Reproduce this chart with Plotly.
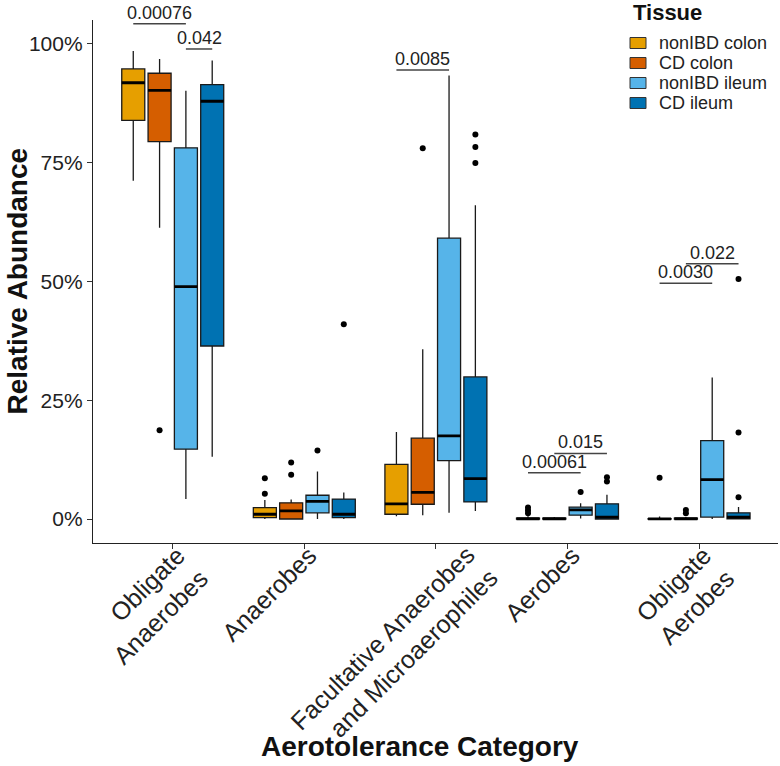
import plotly.graph_objects as go

categories = ["Obligate<br>Anaerobes", "Anaerobes",
              "Facultative Anaerobes<br>and Microaerophiles", "Aerobes",
              "Obligate<br>Aerobes"]
tissues = ["nonIBD colon", "CD colon", "nonIBD ileum", "CD ileum"]
colors = ["#E69F00", "#D55E00", "#56B4E9", "#0072B2"]

# per tissue: values for each category
lower = {
    "nonIBD colon": [0.712, 0.0, 0.006, 0.0, 0.0],
    "CD colon":     [0.613, 0.0, 0.008, 0.0, 0.0],
    "nonIBD ileum": [0.042, 0.0, 0.013, 0.001, 0.0],
    "CD ileum":     [0.131, 0.0, 0.017, 0.0, 0.0],
}
q1 = {
    "nonIBD colon": [0.839, 0.003, 0.010, 0.0, 0.0],
    "CD colon":     [0.794, 0.0, 0.031, 0.0, 0.0],
    "nonIBD ileum": [0.147, 0.013, 0.123, 0.008, 0.004],
    "CD ileum":     [0.364, 0.003, 0.036, 0.0, 0.0005],
}
median = {
    "nonIBD colon": [0.918, 0.010, 0.032, 0.0005, 0.0003],
    "CD colon":     [0.902, 0.017, 0.056, 0.0005, 0.0005],
    "nonIBD ileum": [0.489, 0.037, 0.175, 0.019, 0.083],
    "CD ileum":     [0.879, 0.010, 0.085, 0.004, 0.004],
}
q3 = {
    "nonIBD colon": [0.947, 0.024, 0.115, 0.002, 0.001],
    "CD colon":     [0.938, 0.034, 0.170, 0.002, 0.002],
    "nonIBD ileum": [0.781, 0.050, 0.591, 0.025, 0.165],
    "CD ileum":     [0.914, 0.042, 0.299, 0.032, 0.013],
}
upper = {
    "nonIBD colon": [0.985, 0.040, 0.183, 0.006, 0.005],
    "CD colon":     [0.968, 0.041, 0.357, 0.004, 0.004],
    "nonIBD ileum": [0.901, 0.100, 0.933, 0.033, 0.298],
    "CD ileum":     [0.965, 0.056, 0.660, 0.051, 0.025],
}
# outliers: (category index, value)
outlier_cat = {
    "nonIBD colon": [1, 1, 3, 3, 3, 4],
    "CD colon":     [0, 1, 1, 2, 4, 4],
    "nonIBD ileum": [1, 3],
    "CD ileum":     [1, 2, 2, 2, 3, 3, 4, 4, 4],
}
outlier_val = {
    "nonIBD colon": [0.053, 0.086, 0.012, 0.018, 0.024, 0.087],
    "CD colon":     [0.187, 0.093, 0.119, 0.780, 0.012, 0.019],
    "nonIBD ileum": [0.144, 0.057],
    "CD ileum":     [0.410, 0.749, 0.783, 0.809, 0.079, 0.088, 0.046, 0.182, 0.505],
}

# p-value brackets
pval_labels = ["0.00076", "0.042", "0.0085", "0.00061", "0.015", "0.0030", "0.022"]
pval_cat = [0, 0, 2, 3, 3, 4, 4]
pval_from = [0, 2, 0, 0, 1, 0, 1]
pval_to = [2, 3, 2, 2, 3, 2, 3]
pval_y = [1.042, 0.989, 0.945, 0.0975, 0.138, 0.496, 0.537]

yticks = [0, 0.25, 0.5, 0.75, 1.0]
ytick_text = ["0%", "25%", "50%", "75%", "100%"]

FONT = "Liberation Sans, Arial, sans-serif"
EDGE = "#1a1a1a"

W, H = 780, 766
ML, MR, MT, MB = 93, 2, 20, 223
PW, PH = W - ML - MR, H - MT - MB


def px_x(p):
    return (p - ML) / PW


def px_y(p):
    return (H - MB - p) / PH


fig = go.Figure()
for t, c in zip(tissues, colors):
    fig.add_trace(go.Box(
        x=categories, q1=q1[t], median=median[t], q3=q3[t],
        lowerfence=lower[t], upperfence=upper[t],
        name=t, fillcolor=c, line=dict(color=EDGE, width=1.3),
        whiskerwidth=0, boxpoints=False, offsetgroup=t, alignmentgroup="a",
        hoverinfo="skip", showlegend=False,
    ))
# thicker median lines
for t, c in zip(tissues, colors):
    fig.add_trace(go.Box(
        x=categories, q1=median[t], median=median[t], q3=median[t],
        lowerfence=median[t], upperfence=median[t],
        name=t, fillcolor="rgba(0,0,0,0)", line=dict(color="#000000", width=2.8),
        whiskerwidth=0, boxpoints=False, offsetgroup=t, alignmentgroup="a",
        showlegend=False, hoverinfo="skip",
    ))
# outliers
for t in tissues:
    fig.add_trace(go.Scatter(
        x=[categories[i] for i in outlier_cat[t]], y=outlier_val[t],
        mode="markers", marker=dict(color="#000000", size=6),
        offsetgroup=t, alignmentgroup="a", showlegend=False, hoverinfo="skip",
    ))

ngroups = len(tissues)
group_w = 0.8 / ngroups


def gx(cat, g):
    return cat + (g - (ngroups - 1) / 2) * group_w


for lab, c, a, b, yv in zip(pval_labels, pval_cat, pval_from, pval_to, pval_y):
    x0, x1 = gx(c, a), gx(c, b)
    fig.add_shape(type="line", xref="x", yref="y", x0=x0, x1=x1, y0=yv, y1=yv,
                  line=dict(color="#444444", width=1.5))
    fig.add_annotation(x=(x0 + x1) / 2, y=yv, xref="x", yref="y", text=lab,
                       showarrow=False, yanchor="bottom", yshift=-1,
                       font=dict(family=FONT, size=18, color="#222222"))

# legend (drawn in paper space)
fig.add_annotation(x=px_x(631), y=px_y(13), xref="paper", yref="paper",
                   text="<b>Tissue</b>", showarrow=False, xanchor="left", yanchor="middle",
                   font=dict(family=FONT, size=22, color="#111111"))
for i, (t, c) in enumerate(zip(tissues, colors)):
    yc = 43 + 20 * i
    fig.add_shape(type="rect", xref="paper", yref="paper",
                  x0=px_x(630), x1=px_x(646), y0=px_y(yc - 5.5), y1=px_y(yc + 5.5),
                  fillcolor=c, line=dict(color="#333333", width=1))
    fig.add_annotation(x=px_x(657), y=px_y(yc), xref="paper", yref="paper",
                       text=t, showarrow=False, xanchor="left", yanchor="middle",
                       font=dict(family=FONT, size=18, color="#222222"))

# axis titles
fig.add_annotation(x=px_x(17), y=0.5, xref="paper", yref="paper",
                   text="<b>Relative Abundance</b>", textangle=-90, showarrow=False,
                   xanchor="center", yanchor="middle",
                   font=dict(family=FONT, size=28, color="#111111"))
fig.add_annotation(x=px_x(420), y=px_y(746), xref="paper", yref="paper",
                   text="<b>Aerotolerance Category</b>", showarrow=False,
                   xanchor="center", yanchor="middle",
                   font=dict(family=FONT, size=28, color="#111111"))

# the long two-line category label is placed as a rotated annotation
long_idx = max(range(len(categories)), key=lambda i: len(categories[i]))
tick_text = ["" if i == long_idx else c for i, c in enumerate(categories)]
fig.add_annotation(x=categories[long_idx], xref="x", y=0, yref="paper",
                   text=categories[long_idx], textangle=-45, align="right",
                   showarrow=False, xanchor="center", yanchor="middle",
                   xshift=-42, yshift=-106,
                   font=dict(family=FONT, size=25, color="#222222"))

fig.update_layout(
    width=W, height=H,
    paper_bgcolor="white", plot_bgcolor="white",
    margin=dict(l=ML, r=MR, t=MT, b=MB),
    boxmode="group", boxgap=0.2, boxgroupgap=0.125,
    scattermode="group", scattergap=0.2,
    font=dict(family=FONT, color="#222222"),
    showlegend=False,
)
fig.update_xaxes(
    type="category", categoryorder="array", categoryarray=categories,
    tickmode="array", tickvals=categories, ticktext=tick_text,
    range=[-0.606, 4.6], automargin=False,
    showline=True, linecolor="#222222", linewidth=1.3,
    ticks="outside", ticklen=5, tickcolor="#333333", tickwidth=1.2,
    tickangle=-45, tickfont=dict(size=25, color="#222222"),
    ticklabelstandoff=-18, ticklabelshift=5,
    showgrid=False, zeroline=False,
)
fig.update_yaxes(
    range=[-0.0505, 1.05], automargin=False,
    tickvals=yticks, ticktext=ytick_text,
    showline=True, linecolor="#222222", linewidth=1.3,
    ticks="outside", ticklen=5, tickcolor="#333333", tickwidth=1.2,
    tickfont=dict(size=21, color="#222222"),
    showgrid=False, zeroline=False,
)

fig.write_html("out.html", config={"displayModeBar": False},
               post_script="document.body.style.margin='0px';")
